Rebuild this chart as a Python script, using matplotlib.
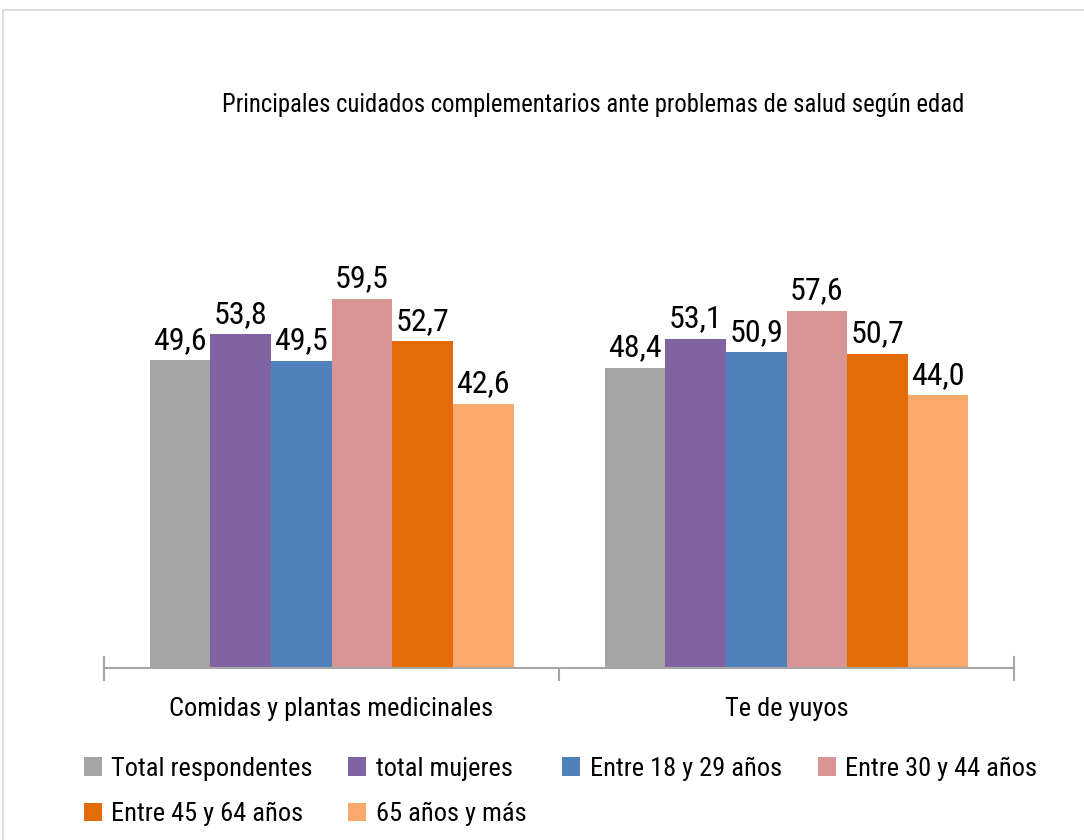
import matplotlib
matplotlib.use("Agg")
import matplotlib.pyplot as plt
from matplotlib.patches import Rectangle
import numpy as np
from matplotlib import font_manager

names = {f.name for f in font_manager.fontManager.ttflist}
fam = next((f for f in ['Roboto Condensed', 'PT Sans Narrow', 'Archivo Narrow',
                        'Asap Condensed', 'Liberation Sans Narrow'] if f in names), 'DejaVu Sans')
plt.rcParams['font.family'] = [fam, 'DejaVu Sans']

title = "Principales cuidados complementarios ante problemas de salud según edad"
categories = ["Comidas y plantas medicinales", "Te de yuyos"]
series_names = ["Total respondentes", "total mujeres", "Entre 18 y 29 años",
                "Entre 30 y 44 años", "Entre 45 y 64 años", "65 años y más"]
values = [
    [49.6, 48.4],
    [53.8, 53.1],
    [49.5, 50.9],
    [59.5, 57.6],
    [52.7, 50.7],
    [42.6, 44.0],
]
colors = ["#A5A5A5", "#8064A2", "#4F81BD", "#D99594", "#E36C09", "#F8A96B"]

fig = plt.figure(figsize=(10.84, 8.4), dpi=100)
fig.patches.append(Rectangle((3/1084, -0.05), 1.1, 1 - 10/840 + 0.05,
                             transform=fig.transFigure, fill=False,
                             edgecolor="#D9D9D9", linewidth=1.2))
ax = fig.add_axes([104/1084, (840-668)/840, 910/1084, 434/840])

x = np.arange(len(categories))
n = len(series_names)
w = 0.8 / n
handles = []
for i, (name, vals, c) in enumerate(zip(series_names, values, colors)):
    bars = ax.bar(x - 0.4 + w * (i + 0.5), vals, width=w, color=c, label=name)
    ax.bar_label(bars, labels=[f"{v:.1f}".replace(".", ",") for v in vals],
                 padding=4, fontsize=23)
    handles.append(bars)

ax.set_xlim(-0.5, len(categories) - 0.5)
ax.set_ylim(0, 70)
for s in ["top", "right", "left"]:
    ax.spines[s].set_visible(False)
ax.spines["bottom"].set_color("#A6A6A6")
ax.spines["bottom"].set_linewidth(1.5)
ax.set_yticks([])
ax.set_xticks(x)
ax.set_xticklabels(categories, fontsize=19)
ax.tick_params(axis="x", which="major", length=0, pad=21)
ax.set_xticks(np.arange(len(categories) + 1) - 0.5, minor=True)
ax.tick_params(axis="x", which="minor", length=9, width=1.5, color="#A6A6A6", direction="out")
for xe in (-0.5, len(categories) - 0.5):
    ax.axvline(xe, ymin=0, ymax=11/434, color="#A6A6A6", lw=1.5, clip_on=False)

fig.text(593/1084, 1 - 105/840, title, ha="center", va="center", fontsize=17.7)

order = [0, 4, 1, 5, 2, 3]
fig.legend([handles[i] for i in order], [series_names[i] for i in order],
           ncol=4, loc="upper left", bbox_to_anchor=(73/1084, 1 - 746/840),
           frameon=False, fontsize=19, handlelength=0.68, handleheight=0.68,
           handletextpad=0.36, columnspacing=1.36, labelspacing=0.8,
           borderaxespad=0)

fig.savefig("out.png", dpi=100)
